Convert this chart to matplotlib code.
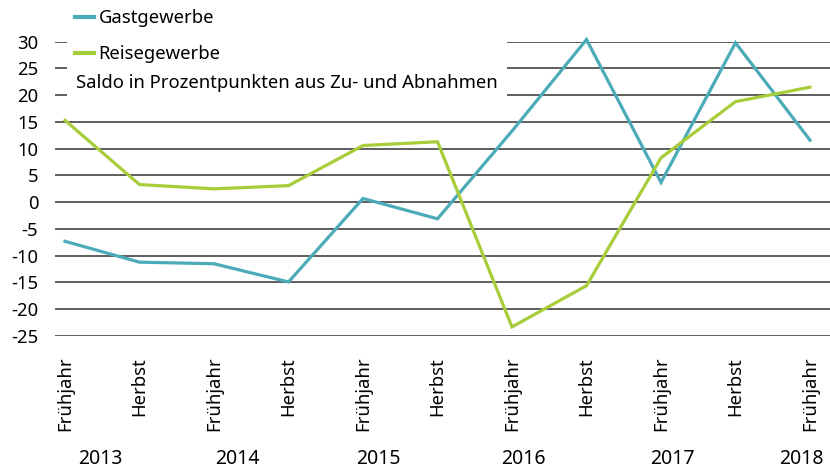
import matplotlib
matplotlib.use("Agg")
import matplotlib.pyplot as plt
import matplotlib.transforms as mtransforms
from matplotlib.patches import Rectangle

plt.rcParams['font.family'] = ['Noto Sans', 'DejaVu Sans']

categories = ["Frühjahr", "Herbst", "Frühjahr", "Herbst", "Frühjahr", "Herbst",
              "Frühjahr", "Herbst", "Frühjahr", "Herbst", "Frühjahr"]
years = ["2013", "2014", "2015", "2016", "2017", "2018"]
gastgewerbe = [-7.3, -11.2, -11.5, -14.9, 0.7, -3.1, 13.3, 30.4, 3.7, 29.8, 11.6]
reisegewerbe = [15.3, 3.3, 2.5, 3.1, 10.6, 11.3, -23.3, -15.6, 8.3, 18.8, 21.5]
yticks = [30, 25, 20, 15, 10, 5, 0, -5, -10, -15, -20, -25]

TEAL = "#4BABB8"
GREEN = "#A7CD3A"

W, H = 830, 468
fig = plt.figure(figsize=(W / 100, H / 100), dpi=100)
ax_left, ax_right = 55 / W, 1.0
ax_bottom, ax_top = 1 - 336 / H, 1 - 41.7 / H
ax = fig.add_axes([ax_left, ax_bottom, ax_right - ax_left, ax_top - ax_bottom])

x = list(range(len(categories)))
l1, = ax.plot(x, gastgewerbe, color=TEAL, lw=2.3, label="Gastgewerbe",
              clip_on=False, zorder=3, solid_joinstyle='miter')
l2, = ax.plot(x, reisegewerbe, color=GREEN, lw=2.3, label="Reisegewerbe",
              clip_on=False, zorder=3, solid_joinstyle='miter')

ax.set_ylim(-25, 30)
ax.set_xlim(-10 / 74.5, 10 + 20 / 74.5)
ax.set_yticks(yticks)
ax.set_yticklabels([str(v) for v in yticks])
ax.yaxis.grid(True, color="#333333", lw=1.1)
ax.set_axisbelow(True)
for s in ax.spines.values():
    s.set_visible(False)
ax.tick_params(axis='y', length=0, pad=12, labelsize=13.3)
ax.set_xticks(x)
ax.set_xticklabels(categories, rotation=90, fontsize=13.3)
ax.tick_params(axis='x', length=0, pad=15)

# white box behind legend (covers gridlines)
ax.add_patch(Rectangle((67 / W, 1 - 100 / H), (507 - 67) / W, 100 / H,
                       transform=fig.transFigure, facecolor='white',
                       edgecolor='none', zorder=1.5, clip_on=False))

leg = ax.legend(handles=[l1, l2], loc='upper left',
                bbox_to_anchor=(77 / W - 0.002, 1 - 9 / H),
                bbox_transform=fig.transFigure, frameon=False,
                fontsize=13.3, handlelength=1.0, handletextpad=0.25,
                labelspacing=1.0, borderpad=0, borderaxespad=0)
leg.set_zorder(5)
for ln in leg.get_lines():
    ln.set_linewidth(3)

fig.text(76 / W, 1 - 83 / H, "Saldo in Prozentpunkten aus Zu- und Abnahmen",
         fontsize=13.3, va='center', ha='left', zorder=6)

year_pos = [0.48, 2.32, 4.2, 6.15, 8.15, 9.89]
trans = mtransforms.blended_transform_factory(ax.transData, fig.transFigure)
for xp, yr in zip(year_pos, years):
    ax.text(xp, 1 - 459 / H, yr, transform=trans, ha='center', va='center',
            fontsize=14, clip_on=False)

fig.savefig("out.png", dpi=100)
